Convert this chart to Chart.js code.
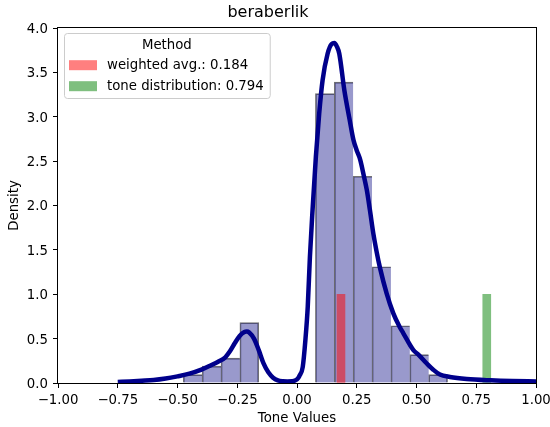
<!DOCTYPE html>
<html>
<head>
<meta charset="utf-8">
<script src="https://cdn.jsdelivr.net/npm/chart.js@4.4.1/dist/chart.umd.min.js"></script>
<style>
  html, body { margin: 0; padding: 0; background: #fff; }
</style>
</head>
<body>
<canvas id="toneChart" width="550" height="427"></canvas>
<script>
// histogram bins (density)
var binEdges = [-0.476, -0.397, -0.318, -0.239, -0.160, -0.081, -0.002, 0.077, 0.156, 0.235, 0.314, 0.393, 0.472, 0.551, 0.630];
var binHeights = [0.094, 0.19, 0.28, 0.68, 0, 0, 0, 3.26, 3.39, 2.33, 1.31, 0.645, 0.32, 0.094];

// kde curve
var kdeX = [-0.75, -0.70, -0.65, -0.60, -0.55, -0.50, -0.45, -0.40, -0.36, -0.33, -0.30, -0.28, -0.26, -0.24, -0.22, -0.21, -0.20, -0.18, -0.16, -0.14, -0.12, -0.10, -0.08, -0.06, -0.04, -0.02, 0.00, 0.01, 0.024, 0.035, 0.045, 0.054, 0.066, 0.079, 0.093, 0.107, 0.128, 0.145, 0.156, 0.167, 0.177, 0.198, 0.22, 0.236, 0.25, 0.264, 0.28, 0.292, 0.305, 0.319, 0.333, 0.347, 0.375, 0.403, 0.428, 0.445, 0.487, 0.508, 0.543, 0.57, 0.598, 0.64, 0.71, 0.81, 0.90, 1.00];
var kdeY = [0.012, 0.018, 0.025, 0.033, 0.05, 0.075, 0.105, 0.15, 0.2, 0.24, 0.29, 0.36, 0.45, 0.53, 0.575, 0.58, 0.57, 0.50, 0.37, 0.22, 0.12, 0.06, 0.03, 0.02, 0.018, 0.02, 0.04, 0.08, 0.18, 0.48, 0.86, 1.42, 1.99, 2.55, 3.04, 3.41, 3.71, 3.82, 3.83, 3.79, 3.71, 3.30, 2.97, 2.74, 2.62, 2.52, 2.33, 2.175, 1.95, 1.69, 1.48, 1.30, 1.01, 0.785, 0.64, 0.56, 0.37, 0.32, 0.22, 0.15, 0.095, 0.068, 0.045, 0.03, 0.022, 0.018];

// method markers
var methodNames = ['weighted avg.', 'tone distribution'];
var methodValues = [0.184, 0.794];
var methodHeights = [1, 1];
var methodColors = ['rgba(255,0,0,0.5)', 'rgba(0,128,0,0.5)'];

var FONT = 'DejaVu Sans';
var FS = 13.3;
Chart.defaults.font.family = FONT;
Chart.defaults.color = '#000';

var histData = [];
for (var i = 0; i < binHeights.length; i++) {
    if (binHeights[i] > 0) {
        histData.push({x: (binEdges[i] + binEdges[i + 1]) / 2, y: binHeights[i], bin: i});
    }
}
var kdeData = kdeX.map(function (x, i) { return {x: x, y: kdeY[i]}; });

var methodSets = methodNames.map(function (name, i) {
    return {
        type: 'bar',
        label: name + ': ' + methodValues[i].toFixed(3),
        data: [{x: methodValues[i], y: methodHeights[i]}],
        xAxisID: 'x2',
        backgroundColor: methodColors[i],
        borderWidth: 0,
        barThickness: 8,
        grouped: false,
        order: 1
    };
});

// frame round the plot, like the axes spines
var framePlugin = {
    id: 'frame',
    afterDatasetsDraw: function (chart) {
        var a = chart.chartArea, ctx = chart.ctx;
        ctx.save();
        ctx.strokeStyle = '#000';
        ctx.lineWidth = 1;
        ctx.strokeRect(Math.round(a.left) - 0.5, Math.round(a.top) - 0.5, Math.round(a.right - a.left) + 1, Math.round(a.bottom - a.top) + 1);
        ctx.restore();
    }
};

// legend box with title in the top-left corner
var legendPlugin = {
    id: 'methodLegend',
    afterDraw: function (chart) {
        var a = chart.chartArea, ctx = chart.ctx;
        ctx.save();
        ctx.font = FS + 'px "' + FONT + '"';
        var maxW = 0;
        methodSets.forEach(function (d) { maxW = Math.max(maxW, ctx.measureText(d.label).width); });
        var x0 = a.left + 6, y0 = a.top + 5;
        var w = 43 + maxW + 6, h = 65;
        ctx.beginPath();
        ctx.roundRect(x0 + 0.5, y0 + 0.5, w, h, 3);
        ctx.fillStyle = 'rgba(255,255,255,0.8)';
        ctx.fill();
        ctx.strokeStyle = '#cccccc';
        ctx.lineWidth = 1;
        ctx.stroke();
        ctx.fillStyle = '#000';
        ctx.textBaseline = 'middle';
        ctx.textAlign = 'center';
        ctx.fillText('Method', x0 + w / 2, y0 + 12.3);
        ctx.textAlign = 'left';
        methodSets.forEach(function (d, i) {
            var cy = y0 + 32.2 + i * 21;
            ctx.fillStyle = methodColors[i];
            ctx.fillRect(x0 + 5, cy - 5, 28, 10);
            ctx.fillStyle = '#000';
            ctx.fillText(d.label, x0 + 43, cy);
        });
        ctx.restore();
    }
};

new Chart('toneChart', {
    type: 'bar',
    data: {
        datasets: [{
            type: 'line',
            label: 'kde',
            data: kdeData,
            borderColor: '#00008b',
            borderWidth: 4.5,
            pointRadius: 0,
            fill: false,
            cubicInterpolationMode: 'monotone',
            order: 0
        }].concat(methodSets, [{
            type: 'bar',
            label: 'hist',
            data: histData,
            backgroundColor: 'rgba(0,0,128,0.4)',
            borderColor: 'rgba(0,0,0,0.55)',
            borderWidth: function (c) {
                var b = c.raw ? c.raw.bin : 0;
                return {top: 1, left: 1, bottom: 0, right: binHeights[b + 1] > 0 ? 0 : 1};
            },
            borderSkipped: false,
            barPercentage: 1,
            categoryPercentage: 1,
            grouped: false,
            order: 2
        }])
    },
    options: {
        responsive: false,
        animation: false,
        layout: {padding: {left: 0, right: 14, top: 0, bottom: 0}},
        plugins: {
            legend: {display: false},
            tooltip: {enabled: false},
            title: {
                display: true,
                text: 'beraberlik',
                color: '#000',
                font: {size: 16, weight: 'normal'},
                padding: {top: 3.2, bottom: 5.6}
            }
        },
        scales: {
            x: {
                type: 'linear',
                min: -1, max: 1,
                offset: false,
                grid: {offset: false, drawOnChartArea: false, drawTicks: true, tickLength: 5, color: '#000'},
                border: {display: false},
                ticks: {
                    stepSize: 0.25, padding: 5, font: {size: FS}, maxRotation: 0,
                    callback: function (v) { return (v < 0 ? '\u2212' : '') + Math.abs(v).toFixed(2); }
                },
                title: {display: true, text: 'Tone Values', font: {size: FS}, padding: 0.5},
                afterFit: function (s) { s.height = 44; s.paddingLeft = 0; s.paddingRight = 0; }
            },
            x2: {
                type: 'linear',
                min: -1, max: 1,
                offset: false,
                display: false
            },
            y: {
                min: 0, max: 4,
                grid: {drawOnChartArea: false, drawTicks: true, tickLength: 5, color: '#000'},
                border: {display: false},
                ticks: {
                    stepSize: 0.5, padding: 5, font: {size: FS}, labelOffset: 1.5,
                    callback: function (v) { return v.toFixed(1); }
                },
                title: {display: true, text: 'Density', font: {size: FS}, padding: 6.5},
                afterFit: function (s) { s.width = 58; }
            }
        }
    },
    plugins: [framePlugin, legendPlugin]
});
</script>
</body>
</html>
